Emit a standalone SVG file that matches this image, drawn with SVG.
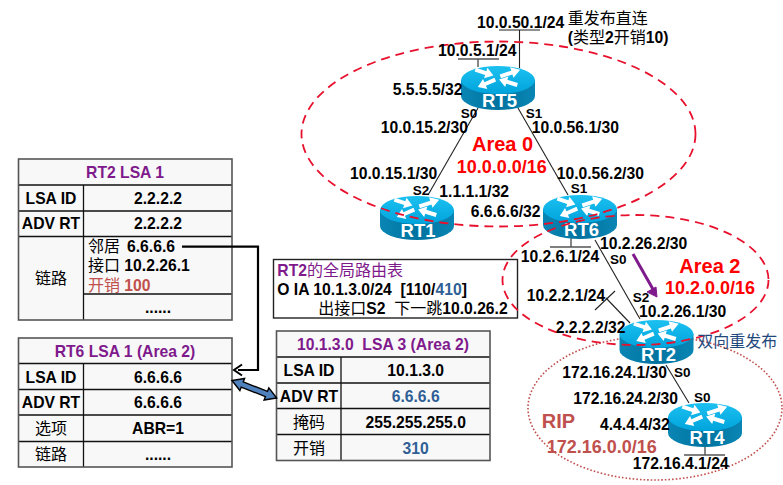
<svg xmlns="http://www.w3.org/2000/svg" width="783" height="485" viewBox="0 0 783 485">
<style>
text{font-family:"Liberation Sans","Noto Sans CJK SC",sans-serif;fill:#000;font-size:15.7px;font-weight:bold}
.m{text-anchor:middle}
.cn{font-weight:normal;font-size:16px}
.s{font-size:13.5px}
.p{fill:#7f1a8c}
.b{fill:#2f5f96}
.r{fill:#ff0000}
.rb{fill:#c0504d}
.ra{font-size:20px}
.rn{font-size:18px}
.rl{fill:#fff;font-size:18.5px;text-anchor:middle}
.cell{fill:#f8f8f8;stroke:none}
.grid{fill:none;stroke:#111;stroke-width:1.3}
.out{fill:none;stroke:#555;stroke-width:1.6}
.ln{fill:none;stroke:#222;stroke-width:1.1}
.st{fill:none;stroke:#555;stroke-width:1.4}
.a0{fill:none;stroke:#e8112d;stroke-width:1.8;stroke-dasharray:9 6}
.rip{fill:none;stroke:#c0504d;stroke-width:1.6;stroke-dasharray:1.6 2}
</style>
<defs>
<linearGradient id="top" x1="0" y1="0" x2="0" y2="1"><stop offset="0" stop-color="#1cc0f0"/><stop offset="1" stop-color="#00a4dc"/></linearGradient>
<linearGradient id="side" x1="0" y1="0" x2="1" y2="0"><stop offset="0" stop-color="#0a86b4"/><stop offset="0.5" stop-color="#0073a0"/><stop offset="1" stop-color="#0a86b4"/></linearGradient>
<path id="ar" d="M0,-2H11V-5.5L19,0L11,5.5V2H0z" fill="#fff"/>
<g id="router">
<path d="M-37,14V30A37,14 0 0 0 37,30V14z" fill="url(#side)"/>
<ellipse cx="0" cy="14" rx="37" ry="14" fill="url(#top)"/>
<use href="#ar" transform="translate(-22.7,3.7) rotate(18)"/>
<use href="#ar" transform="translate(2.3,10.3) rotate(-18) scale(1.1,1)"/>
<use href="#ar" transform="translate(-2.7,13.7) rotate(157)"/>
<use href="#ar" transform="translate(19.3,19) rotate(197)"/>
</g>
</defs>
<rect width="783" height="485" fill="#fff"/>

<ellipse id="area-rip" class="rip" cx="655" cy="408" rx="127" ry="72"/>

<g id="table-rt2">
<rect class="cell" x="18.5" y="159" width="213.5" height="161"/>
<path class="grid" d="M18.5,185H232M18.5,211H232M18.5,236.5H232M83.5,185V320M83.5,294H232"/>
<rect class="out" x="18.5" y="159" width="213.5" height="161"/>
<text class="m p" x="125" y="177.7">RT2 LSA 1</text>
<text class="m" x="51" y="204">LSA ID</text><text class="m" x="158" y="204">2.2.2.2</text>
<text class="m" x="51" y="229.3">ADV RT</text><text class="m" x="158" y="229.3">2.2.2.2</text>
<text class="m cn" x="51" y="284">链路</text>
<text x="88" y="251.7"><tspan class="cn">邻居</tspan><tspan dx="7">6.6.6.6</tspan></text>
<text x="88" y="271"><tspan class="cn">接口</tspan> 10.2.26.1</text>
<text x="88" y="290.7" class="rb"><tspan class="cn rb">开销</tspan> 100</text>
<text class="m" x="158" y="312.7">......</text>
</g>

<g id="table-rt6">
<rect class="cell" x="18.5" y="338" width="213.5" height="129"/>
<path class="grid" d="M18.5,363.5H232M18.5,389.5H232M18.5,415H232M18.5,441.5H232M83.5,363.5V467"/>
<rect class="out" x="18.5" y="338" width="213.5" height="129"/>
<text class="m p" x="125" y="356.7">RT6 LSA 1 (Area 2)</text>
<text class="m" x="51" y="382.7">LSA ID</text><text class="m" x="158" y="382.7">6.6.6.6</text>
<text class="m" x="51" y="408.3">ADV RT</text><text class="m" x="158" y="408.3">6.6.6.6</text>
<text class="m cn" x="51" y="434.3">选项</text><text class="m" x="158" y="434.3">ABR=1</text>
<text class="m cn" x="51" y="460">链路</text><text class="m" x="158" y="460">......</text>
</g>

<g id="table-lsa3">
<rect class="cell" x="276.5" y="331" width="213.5" height="129.5"/>
<path class="grid" d="M276.5,357H490M276.5,383H490M276.5,408.5H490M276.5,434.5H490M341,357V460.5"/>
<rect class="out" x="276.5" y="331" width="213.5" height="129.5"/>
<text class="m p" x="383" y="350" xml:space="preserve">10.1.3.0  LSA 3 (Area 2)</text>
<text class="m" x="309" y="376">LSA ID</text><text class="m" x="415.7" y="376">10.1.3.0</text>
<text class="m" x="309" y="401.7">ADV RT</text><text class="m b" x="415.7" y="401.7">6.6.6.6</text>
<text class="m cn" x="309" y="427.7">掩码</text><text class="m" x="415.7" y="427.7">255.255.255.0</text>
<text class="m cn" x="309" y="454">开销</text><text class="m b" x="415.7" y="454">310</text>
</g>

<g id="route-table">
<rect x="273.5" y="259.5" width="244" height="58.5" fill="#fff" stroke="#222" stroke-width="1.4"/>
<text class="p" x="277.3" y="275.7">RT2<tspan class="cn p">的全局路由表</tspan></text>
<text x="277.3" y="295" xml:space="preserve">O IA 10.1.3.0/24  [110/<tspan class="b">410</tspan>]</text>
<text x="318.3" y="314" xml:space="preserve"><tspan class="cn">出接口</tspan>S2  <tspan class="cn">下一跳</tspan>10.0.26.2</text>
</g>

<g id="connectors">
<path class="ln" d="M478,108L428,195"/>
<path class="ln" d="M518,108L568,195"/>
<path class="ln" d="M595,240L640,319"/>
<path class="ln" d="M606,298L630,323"/>
<path class="ln" d="M595,310L615,291"/>
<path class="ln" d="M666,365L689,403"/>
<path class="ln" d="M519.5,30V68M499,30H540"/>
<path class="st" d="M478,59V67M458,59H499"/>
<path class="st" d="M571,238V247M550,247H591"/>
<path class="st" d="M705,447V455M684,455H725"/>
<path d="M182,246.7H258V370H238" fill="none" stroke="#000" stroke-width="2.2"/>
<path d="M242,364.5L234,370L242,375.5" fill="none" stroke="#000" stroke-width="2"/>
<path d="M232,380.5L239.87,390.55L241.22,387.1L265.44,396.6L264.09,400.03L276.7,398L268.83,387.93L267.48,391.37L243.26,381.9L244.61,378.45z" fill="#4f81bd" stroke="#000" stroke-width="1.4"/>
<path d="M633,254L654,291" stroke="#7f1a8c" stroke-width="3" fill="none"/>
<path d="M657,297L647,292L656,287z" fill="#7f1a8c" stroke="#7f1a8c"/>
</g>

<g id="rt5"><use href="#router" x="498" y="66"/><text class="rl" x="499.5" y="106.5">RT5</text></g>
<g id="rt1"><use href="#router" x="417" y="196"/><text class="rl" x="418" y="237">RT1</text></g>
<g id="rt6"><use href="#router" x="580" y="195"/><text class="rl" x="581.5" y="236">RT6</text></g>
<g id="rt2"><use href="#router" x="656.5" y="320"/><text class="rl" x="658.5" y="361">RT2</text></g>
<g id="rt4"><use href="#router" x="705" y="403"/><text class="rl" x="707" y="444">RT4</text></g>

<ellipse id="area-0" class="a0" cx="498.5" cy="134" rx="197" ry="92.5"/>
<ellipse id="area-2" class="a0" cx="635.5" cy="280" rx="133" ry="65"/>

<g id="labels">
<text x="477" y="27.5">10.0.50.1/24</text>
<text class="cn" x="567.7" y="24">重发布直连</text>
<text x="567.7" y="43">(<tspan class="cn">类型</tspan>2<tspan class="cn">开销</tspan>10)</text>
<text x="438" y="56">10.0.5.1/24</text>
<text x="392.7" y="95">5.5.5.5/32</text>
<text class="s" x="460.7" y="117.7">S0</text>
<text class="s" x="525.7" y="117.7">S1</text>
<text x="380.7" y="132.7">10.0.15.2/30</text>
<text x="531.7" y="132.7">10.0.56.1/30</text>
<text class="r ra" x="472" y="150.7">Area 0</text>
<text class="r rn" x="456.7" y="173">10.0.0.0/16</text>
<text x="350" y="179">10.0.15.1/30</text>
<text x="556.7" y="179">10.0.56.2/30</text>
<text class="s" x="412.7" y="195">S2</text>
<text x="439.3" y="196.7">1.1.1.1/32</text>
<text class="s" x="570.7" y="193">S1</text>
<text x="470.7" y="216.7">6.6.6.6/32</text>
<text x="600" y="249">10.2.26.2/30</text>
<text x="520.7" y="262">10.2.6.1/24</text>
<text class="s" x="610" y="263.5">S0</text>
<text class="r ra" x="679.3" y="273.3">Area 2</text>
<text class="r rn" x="665" y="294.3">10.2.0.0/16</text>
<text x="526.7" y="300.7">10.2.2.1/24</text>
<text class="s" x="632.7" y="301.7">S2</text>
<text x="639" y="316.7">10.2.26.1/30</text>
<text x="555.7" y="333.3">2.2.2.2/32</text>
<text class="cn" x="697.3" y="346.7" style="fill:#1f497d">双向重发布</text>
<text x="562.3" y="378.3">172.16.24.1/30</text>
<text class="s" x="674" y="376.7">S0</text>
<text x="573.3" y="404.3">172.16.24.2/30</text>
<text class="s" x="694" y="402.3">S0</text>
<text class="rb ra" x="541.7" y="428.3">RIP</text>
<text class="rb rn" x="546.7" y="452.7">172.16.0.0/16</text>
<text x="600" y="430">4.4.4.4/32</text>
<text x="632.7" y="469">172.16.4.1/24</text>
</g>
</svg>
